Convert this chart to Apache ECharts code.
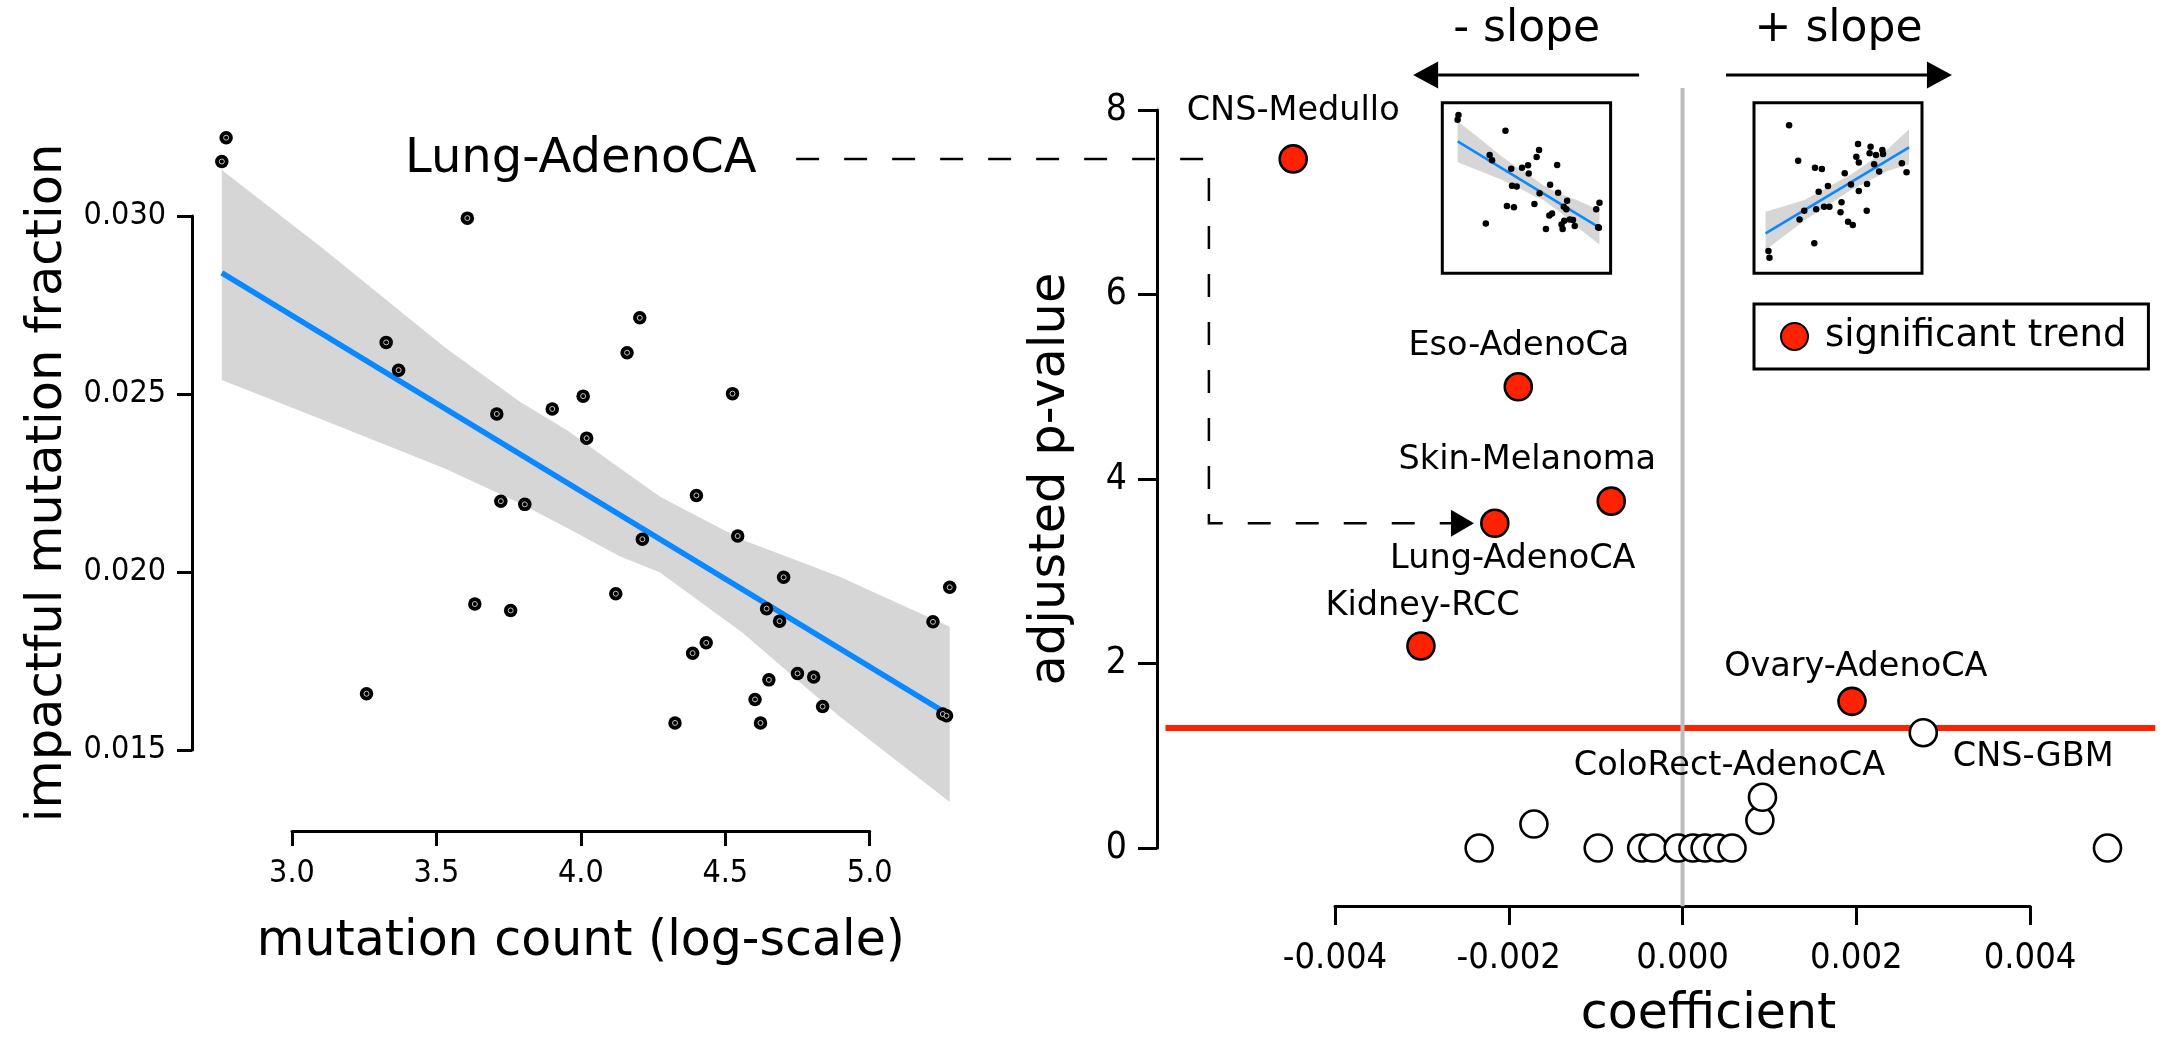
<!DOCTYPE html>
<html><head><meta charset="utf-8">
<script src="https://cdn.jsdelivr.net/npm/echarts@6/dist/echarts.min.js"></script>
<style>html,body{margin:0;padding:0;background:#fff;}#c{width:2162px;height:1041px;}</style>
</head><body><div id="c"></div>
<script>
// ---------- Left panel: Lung-AdenoCA ----------
const mutationCount = [2.772, 2.757, 3.607, 3.326, 3.369, 3.709, 4.204, 4.160, 4.008, 3.901, 4.525, 3.723, 3.806, 3.633, 3.757, 3.258, 4.020, 4.213, 4.400, 4.543, 4.702, 4.643, 4.688, 4.121, 4.434, 4.387, 4.651, 4.750, 4.806, 4.603, 4.837, 4.326, 4.622, 5.219, 5.277, 5.253, 5.266];
const impactFraction = [0.03220, 0.03153, 0.02994, 0.02645, 0.02567, 0.02444, 0.02714, 0.02616, 0.02494, 0.02458, 0.02501, 0.02199, 0.02190, 0.01910, 0.01892, 0.01658, 0.02376, 0.02092, 0.02215, 0.02101, 0.01985, 0.01897, 0.01862, 0.01939, 0.01801, 0.01772, 0.01697, 0.01715, 0.01705, 0.01642, 0.01622, 0.01576, 0.01576, 0.01860, 0.01957, 0.01601, 0.01596];
const fitX = [2.757, 5.277];
const fitY = [0.0284, 0.01597];
const bandX = [2.757, 3.108, 3.531, 3.789, 3.951, 4.138, 4.273, 4.561, 4.896, 5.277];
const bandUpper = [0.03129, 0.02908, 0.02630, 0.02478, 0.02399, 0.02290, 0.02212, 0.02090, 0.01987, 0.01846];
const bandLower = [0.02539, 0.02427, 0.02290, 0.02193, 0.02124, 0.02043, 0.01999, 0.01829, 0.01594, 0.01354];
const leftXTicks = [3.0, 3.5, 4.0, 4.5, 5.0];
const leftYTicks = [0.015, 0.020, 0.025, 0.030];

// ---------- Right panel: coefficient vs adjusted p-value ----------
const sigNames = ['CNS-Medullo', 'Eso-AdenoCa', 'Skin-Melanoma', 'Lung-AdenoCA', 'Kidney-RCC', 'Ovary-AdenoCA'];
const sigCoef  = [-0.00448, -0.00189, -0.00082, -0.00216, -0.00301, 0.00195];
const sigPval  = [7.47, 5.00, 3.76, 3.52, 2.19, 1.59];
const nsNames = ['', '', '', '', '', '', '', '', '', '', '', 'ColoRect-AdenoCA', 'CNS-GBM', ''];
const nsCoef  = [-0.00234, -0.00171, -0.00097, -0.00047, -0.00034, -0.00005, 0.00012, 0.00026, 0.00041, 0.00057, 0.00089, 0.00092, 0.00277, 0.00489];
const nsPval  = [0, 0.26, 0, 0, 0, 0, 0, 0, 0, 0, 0.30, 0.55, 1.25, 0];
const pThreshold = 1.30;
const thresholdSpan = [-0.00595, 0.00544];
const zeroLineSpan = [8.24, -0.63];
const rightXTicks = [-0.004, -0.002, 0.000, 0.002, 0.004];
const rightYTicks = [0, 2, 4, 6, 8];
// slope arrows: [start coef, tip coef, p-value level]
const slopeArrows = [[-0.0005, -0.0031, 8.38], [0.0005, 0.0031, 8.38]];
// dashed connector from the left panel title to the Lung-AdenoCA point
const connectorCoef = [-0.0102, -0.00545, -0.00545, -0.0024];
const connectorPval = [7.47, 7.47, 3.52, 3.52];

// ---------- "+ slope" inset (arbitrary units 0-100) ----------
const posX = [20.9, 26.3, 36.3, 40.4, 54.0, 61.9, 69.4, 68.8, 72.6, 76.4, 76.8, 60.9, 62.4, 71.5, 74.5, 88.0, 90.8, 67.3, 62.4, 57.7, 44.0, 38.5, 52.1, 41.7, 44.9, 37.0, 29.9, 27.1, 51.5, 67.1, 56.0, 58.8, 35.9, 8.6, 9.2];
const posY = [86.8, 66.0, 61.9, 61.1, 58.6, 75.8, 74.2, 70.3, 69.3, 72.3, 69.9, 68.3, 65.0, 63.9, 59.6, 64.5, 59.2, 52.3, 48.2, 52.1, 51.2, 47.8, 41.6, 39.0, 39.0, 37.6, 36.6, 31.5, 35.8, 36.6, 30.2, 28.3, 17.6, 13.1, 9.1];
const posFitX = [6.9, 92.3];
const posFitY = [23.4, 73.8];
const posBandX = [6.9, 30, 57.7, 80, 92.3];
const posBandUpper = [36.1, 43.0, 57.9, 73.1, 84.4];
const posBandLower = [13.7, 31.0, 48.9, 60.1, 63.9];

// ---------- styling ----------
const FONT = 'DejaVu Sans';
const TICKFONT = 'DejaVu Sans Condensed, DejaVu Sans';
const RED = '#ff2200';
const BLUE = '#0a88ff';
const BAND = '#d6d6d6';
const labelOffset = {
  'CNS-Medullo': [0, -47.6], 'Eso-AdenoCa': [0.6, -40.8], 'Skin-Melanoma': [-84, -40.7],
  'Lung-AdenoCA': [18, 36], 'Kidney-RCC': [1.6, -40.2], 'Ovary-AdenoCA': [3.8, -34.2],
  'ColoRect-AdenoCA': [-33, -31], 'CNS-GBM': [110, 24.3]
};

const zip = (a, b) => a.map((v, i) => [v, b[i]]);
const fmt = d => v => { if (Math.abs(v) < 1e-12) v = 0; return v.toFixed(d); };

function bandRenderer(xs, up, lo) {
  return function (params, api) {
    const pts = [];
    for (let i = 0; i < xs.length; i++) pts.push(api.coord([xs[i], up[i]]));
    for (let i = xs.length - 1; i >= 0; i--) pts.push(api.coord([xs[i], lo[i]]));
    return { type: 'polygon', shape: { points: pts }, style: { fill: BAND } };
  };
}

function arrowParts(p0, tip, headLen, headW) {
  const dx = tip[0] - p0[0], dy = tip[1] - p0[1];
  const L = Math.hypot(dx, dy); const ux = dx / L, uy = dy / L;
  const bx = tip[0] - ux * headLen, by = tip[1] - uy * headLen;
  const px = -uy * headW / 2, py = ux * headW / 2;
  return {
    base: [bx, by],
    head: { type: 'polygon', shape: { points: [tip, [bx + px, by + py], [bx - px, by - py]] }, style: { fill: '#000' } }
  };
}

const hiddenX = (g, min, max) => ({ gridIndex: g, type: 'value', show: false, min, max, axisLine: { onZero: false } });
const hiddenY = hiddenX;

const grids = [
  { left: 190.9, top: 127, width: 779.9, height: 712 },          // 0 left data
  { left: 192, top: 216, width: 20, height: 534 },                // 1 left y axis
  { left: 292, top: 700, width: 577.7, height: 131 },             // 2 left x axis
  { left: 1161.1, top: 63.9, width: 999.4, height: 848.7 },       // 3 right data
  { left: 1157, top: 110, width: 20, height: 738 },               // 4 right y axis
  { left: 1335, top: 800, width: 695, height: 106 },              // 5 right x axis
  { left: 1442.3, top: 102.7, width: 168.3, height: 170.6, show: true, borderColor: '#000', borderWidth: 3, backgroundColor: 'rgba(0,0,0,0)' }, // 6 - slope box
  { left: 1451.6, top: 112.9, width: 152, height: 138.8 },        // 7 - slope data
  { left: 1754, top: 102.7, width: 168, height: 170.6, show: true, borderColor: '#000', borderWidth: 3, backgroundColor: 'rgba(0,0,0,0)' }   // 8 + slope box/data
].map(g => Object.assign({ outerBoundsMode: 'none', containLabel: false }, g));

const axisLineStyle = { show: true, onZero: false, lineStyle: { color: '#000', width: 3 } };

const xAxes = [
  hiddenX(0, 2.65, 5.35),
  hiddenX(1, 0, 1),
  { gridIndex: 2, type: 'value', min: leftXTicks[0], max: leftXTicks[leftXTicks.length - 1], interval: leftXTicks[1] - leftXTicks[0],
    position: 'bottom', axisLine: axisLineStyle, splitLine: { show: false },
    axisTick: { show: true, length: 15, lineStyle: { color: '#000', width: 3 } },
    axisLabel: { show: true, margin: 27, formatter: fmt(1), color: '#000', fontSize: 32, fontFamily: TICKFONT },
    name: 'mutation count (log-scale)', nameLocation: 'middle', nameGap: 87,
    nameTextStyle: { fontSize: 49, fontFamily: FONT, color: '#000' } },
  hiddenX(3, -0.006, 0.0055),
  hiddenX(4, 0, 1),
  { gridIndex: 5, type: 'value', min: rightXTicks[0], max: rightXTicks[rightXTicks.length - 1], interval: rightXTicks[1] - rightXTicks[0],
    position: 'bottom', axisLine: axisLineStyle, splitLine: { show: false },
    axisTick: { show: true, length: 19, lineStyle: { color: '#000', width: 3 } },
    axisLabel: { show: true, margin: 35, formatter: fmt(3), color: '#000', fontSize: 36, fontFamily: TICKFONT },
    name: 'coefficient', nameLocation: 'middle', nameGap: 85,
    nameTextStyle: { fontSize: 49, fontFamily: FONT, color: '#000', padding: [0, 0, 0, 52] } },
  hiddenX(6, 0, 1),
  hiddenX(7, 2.65, 5.35),
  hiddenX(8, 0, 100)
];

const yAxes = [
  hiddenY(0, 0.0125, 0.0325),
  { gridIndex: 1, type: 'value', min: leftYTicks[0], max: leftYTicks[leftYTicks.length - 1], interval: leftYTicks[1] - leftYTicks[0],
    position: 'left', axisLine: axisLineStyle, splitLine: { show: false },
    axisTick: { show: true, length: 15, lineStyle: { color: '#000', width: 3 } },
    axisLabel: { show: true, margin: 26, formatter: fmt(3), color: '#000', fontSize: 32, fontFamily: TICKFONT },
    name: 'impactful mutation fraction', nameLocation: 'middle', nameGap: 119,
    nameTextStyle: { fontSize: 49.5, fontFamily: FONT, color: '#000' } },
  hiddenY(2, 0, 1),
  hiddenY(3, -0.7, 8.5),
  { gridIndex: 4, type: 'value', min: rightYTicks[0], max: rightYTicks[rightYTicks.length - 1], interval: rightYTicks[1] - rightYTicks[0],
    position: 'left', axisLine: axisLineStyle, splitLine: { show: false },
    axisTick: { show: true, length: 19, lineStyle: { color: '#000', width: 3 } },
    axisLabel: { show: true, margin: 30, color: '#000', fontSize: 37, fontFamily: TICKFONT },
    name: 'adjusted p-value', nameLocation: 'middle', nameGap: 81,
    nameTextStyle: { fontSize: 49.5, fontFamily: FONT, color: '#000' } },
  hiddenY(5, 0, 1),
  hiddenY(6, 0, 1),
  hiddenY(7, 0.0125, 0.0325),
  hiddenY(8, 0, 100)
];

const labelBase = { show: true, position: 'inside', color: '#000', fontSize: 33.5, fontFamily: FONT, formatter: p => p.name };

const series = [
  // left panel
  { type: 'custom', xAxisIndex: 0, yAxisIndex: 0, z: 1, silent: true, clip: false,
    data: [[bandX[0], bandUpper[0]]], renderItem: bandRenderer(bandX, bandUpper, bandLower) },
  { type: 'line', xAxisIndex: 0, yAxisIndex: 0, z: 2, silent: true, symbol: 'none',
    data: zip(fitX, fitY), lineStyle: { color: BLUE, width: 5.5 } },
  { type: 'scatter', xAxisIndex: 0, yAxisIndex: 0, z: 3, silent: true, symbolSize: 13.5,
    data: zip(mutationCount, impactFraction), itemStyle: { color: '#000', opacity: 1 } },
  { type: 'scatter', xAxisIndex: 0, yAxisIndex: 0, z: 4, silent: true, symbolSize: 5,
    data: zip(mutationCount, impactFraction), itemStyle: { color: '#000', borderColor: '#c4c4c4', borderWidth: 1, opacity: 1 } },
  // "- slope" inset (same Lung-AdenoCA data, miniature)
  { type: 'custom', xAxisIndex: 7, yAxisIndex: 7, z: 1, silent: true, clip: false,
    data: [[bandX[0], bandUpper[0]]], renderItem: bandRenderer(bandX, bandUpper, bandLower) },
  { type: 'line', xAxisIndex: 7, yAxisIndex: 7, z: 2, silent: true, symbol: 'none',
    data: zip(fitX, fitY), lineStyle: { color: BLUE, width: 2.5 } },
  { type: 'scatter', xAxisIndex: 7, yAxisIndex: 7, z: 3, silent: true, symbolSize: 6.5,
    data: zip(mutationCount, impactFraction), itemStyle: { color: '#000', opacity: 1 } },
  // "+ slope" inset
  { type: 'custom', xAxisIndex: 8, yAxisIndex: 8, z: 1, silent: true, clip: false,
    data: [[posBandX[0], posBandUpper[0]]], renderItem: bandRenderer(posBandX, posBandUpper, posBandLower) },
  { type: 'line', xAxisIndex: 8, yAxisIndex: 8, z: 2, silent: true, symbol: 'none',
    data: zip(posFitX, posFitY), lineStyle: { color: BLUE, width: 2.5 } },
  { type: 'scatter', xAxisIndex: 8, yAxisIndex: 8, z: 3, silent: true, symbolSize: 6.5,
    data: zip(posX, posY), itemStyle: { color: '#000', opacity: 1 } },
  // right panel
  { type: 'line', xAxisIndex: 3, yAxisIndex: 3, z: 1, silent: true, symbol: 'none',
    data: thresholdSpan.map(x => [x, pThreshold]), lineStyle: { color: RED, width: 6 } },
  { type: 'line', xAxisIndex: 3, yAxisIndex: 3, z: 2, silent: true, symbol: 'none',
    data: zeroLineSpan.map(y => [0, y]), lineStyle: { color: '#bdbdbd', width: 4 } },
  { type: 'scatter', name: 'not significant', xAxisIndex: 3, yAxisIndex: 3, z: 3, symbolSize: 27,
    itemStyle: { color: '#fff', borderColor: '#000', borderWidth: 2.6, opacity: 1 },
    data: nsCoef.map((x, i) => ({ name: nsNames[i], value: [x, nsPval[i]],
      label: nsNames[i] ? Object.assign({}, labelBase, { offset: labelOffset[nsNames[i]] }) : { show: false } })) },
  { type: 'scatter', name: 'significant trend', xAxisIndex: 3, yAxisIndex: 3, z: 4, symbolSize: 27,
    itemStyle: { color: RED, borderColor: '#000', borderWidth: 2.6, opacity: 1 },
    data: sigCoef.map((x, i) => ({ name: sigNames[i], value: [x, sigPval[i]],
      label: Object.assign({}, labelBase, { offset: labelOffset[sigNames[i]] }) })) },
  // annotations: slope arrows + dashed connector
  { type: 'custom', xAxisIndex: 3, yAxisIndex: 3, z: 6, silent: true, clip: false,
    data: [[0, 1]],
    renderItem: function (params, api) {
      const children = [];
      slopeArrows.forEach(a => {
        const p0 = api.coord([a[0], a[2]]), tip = api.coord([a[1], a[2]]);
        const ar = arrowParts(p0, tip, 25, 27);
        children.push({ type: 'line', shape: { x1: p0[0], y1: p0[1], x2: ar.base[0], y2: ar.base[1] }, style: { stroke: '#000', lineWidth: 3 } });
        children.push(ar.head);
      });
      const pts = connectorCoef.map((x, i) => api.coord([x, connectorPval[i]]));
      const tip = pts[pts.length - 1];
      const ar = arrowParts(pts[pts.length - 2], tip, 23, 27);
      const linePts = pts.slice(0, -1).concat([ar.base]);
      children.push({ type: 'polyline', shape: { points: linePts }, style: { stroke: '#000', lineWidth: 2.5, lineDash: [23, 25], fill: null } });
      children.push(ar.head);
      return { type: 'group', children };
    } }
];

const option = {
  animation: false,
  backgroundColor: '#fff',
  textStyle: { fontFamily: FONT },
  grid: grids,
  xAxis: xAxes,
  yAxis: yAxes,
  legend: {
    show: true, data: ['significant trend'], left: 1754, top: 304, orient: 'horizontal',
    borderColor: '#000', borderWidth: 3, borderRadius: 0, backgroundColor: '#fff',
    padding: [14, 22, 14, 26], itemWidth: 27, itemHeight: 27, icon: 'circle', selectedMode: false,
    textStyle: { fontSize: 37, fontFamily: FONT, color: '#000', padding: [0, 0, 0, 12] }
  },
  graphic: [
    { type: 'text', silent: true, style: { x: 405, y: 159.5, text: 'Lung-AdenoCA', font: '48px "DejaVu Sans"', fill: '#000', align: 'left', verticalAlign: 'middle', textAlign: 'left', textVerticalAlign: 'middle' } },
    { type: 'text', silent: true, style: { x: 1526.6, y: 30, text: '- slope', font: '44px "DejaVu Sans"', fill: '#000', align: 'center', verticalAlign: 'middle', textAlign: 'center', textVerticalAlign: 'middle' } },
    { type: 'text', silent: true, style: { x: 1838.5, y: 30, text: '+ slope', font: '44px "DejaVu Sans"', fill: '#000', align: 'center', verticalAlign: 'middle', textAlign: 'center', textVerticalAlign: 'middle' } }
  ],
  series
};

const chart = echarts.init(document.getElementById('c'), null, { renderer: 'canvas', width: 2162, height: 1041 });
chart.setOption(option);
</script>
</body></html>
